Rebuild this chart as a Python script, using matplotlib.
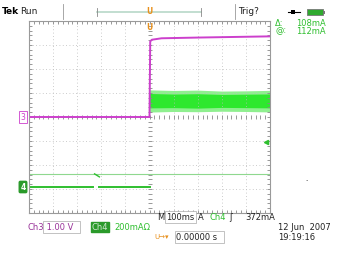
import matplotlib
matplotlib.use('Agg')
import matplotlib.pyplot as plt
from matplotlib.patches import Rectangle

W, H = 343, 256

# channel 3 (volts), 1.00 V/div, ground marker at centre
t3 = [-0.5, -0.001, 0.0, 0.003, 0.01, 0.05, 0.2, 0.5]
v3 = [0.0, 0.0, 0.0, 3.15, 3.22, 3.28, 3.31, 3.36]

# channel 4 (mA), 200 mA/div, ground marker below centre
ch4_pre_t = [[-0.5, -0.235], [-0.21, 0.0]]
ch4_pre_i = [[0.0, 0.0], [0.0, 0.0]]
blip_t = [-0.228, -0.208]
blip_i = [110, 85]
env_t = [0.0, 0.1, 0.2, 0.3, 0.4, 0.5]
env_top = [810, 805, 808, 800, 802, 806]
env_bot = [625, 630, 628, 632, 630, 626]
core_top = [780, 775, 778, 772, 774, 776]
core_bot = [660, 662, 658, 664, 662, 660]
trig_level = 108

ch3_scale, ch3_pos = 1.0, 0.0
ch4_scale, ch4_pos = 200.0, -2.92

MAG = '#cc3fcc'
GRN = '#2fbf2f'
ORG = '#e8901c'


def px(x, y):
    return x / W, 1 - y / H


fig = plt.figure(figsize=(W / 100, H / 100), dpi=100)
fig.patch.set_facecolor('white')

ax = fig.add_axes([29 / W, 43 / H, 241 / W, 192 / H])
ax.set_xlim(-0.5, 0.5)
ax.set_ylim(-4, 4)
ax.set_xticks([])
ax.set_yticks([])
for s in ax.spines.values():
    s.set_color('#9a9a9a')
    s.set_linewidth(0.8)

# graticule
for gx in [-0.4, -0.3, -0.2, -0.1, 0.1, 0.2, 0.3, 0.4]:
    ax.axvline(gx, color='#bbbbbb', lw=0.6, ls=(0, (1, 3)))
for gy in [-3, -2, -1, 1, 2, 3]:
    ax.axhline(gy, color='#bbbbbb', lw=0.6, ls=(0, (1, 3)))
minor_x = [i * 0.02 - 0.5 for i in range(51)]
minor_y = [i * 0.2 - 4 for i in range(41)]
ax.plot(minor_x, [0] * len(minor_x), '|', color='#888888', ms=3, mew=0.6)
ax.plot([0] * len(minor_y), minor_y, '_', color='#888888', ms=3, mew=0.6)
ax.plot(minor_x, [-3.97] * len(minor_x), '|', color='#888888', ms=3, mew=0.6)
ax.plot(minor_x, [3.97] * len(minor_x), '|', color='#888888', ms=3, mew=0.6)
ax.plot([-0.497] * len(minor_y), minor_y, '_', color='#888888', ms=3, mew=0.6)
ax.plot([0.497] * len(minor_y), minor_y, '_', color='#888888', ms=3, mew=0.6)

# trigger level line
ax.axhline(trig_level / ch4_scale + ch4_pos, color='#8fd88f', lw=0.8)

# channel 4
def d4(vals):
    return [v / ch4_scale + ch4_pos for v in vals]

ax.fill_between(env_t, d4(env_bot), d4(env_top), color='#8ff08f', lw=0)
ax.fill_between(env_t, d4(core_bot), d4(core_top), color='#2ee82e', lw=0)
for tt, ii in zip(ch4_pre_t, ch4_pre_i):
    ax.plot(tt, d4(ii), color=GRN, lw=1.4)
ax.plot(blip_t, d4(blip_i), color=GRN, lw=1.0)

# channel 3
ax.plot(t3, [v / ch3_scale + ch3_pos for v in v3], color=MAG, lw=1.4)

# right-side ch4 marker
ax.plot([0.485], [-1.05], marker='<', color=GRN, ms=3)

# trigger position marker just under top edge
fig.text(*px(149.5, 27), 'U', color=ORG, fontsize=5.5, fontweight='bold',
         ha='center', va='center')

# channel ground markers
fig.text(*px(23, 117), '3', color=MAG, fontsize=5.5, ha='center', va='center',
         bbox=dict(boxstyle='square,pad=0.15', fc='white', ec=MAG, lw=0.6))
fig.text(*px(23, 187), '4', color='white', fontsize=5.5, fontweight='bold',
         ha='center', va='center',
         bbox=dict(boxstyle='round,pad=0.15', fc='#2a9a2a', ec='#2a9a2a'))

# top status bar
fig.text(*px(2, 12), 'Tek', fontsize=6.5, fontweight='bold', va='center')
fig.text(*px(20, 12), 'Run', fontsize=6.5, va='center', color='#222222')
for xx in [63, 235]:
    fig.add_artist(plt.Line2D([xx / W, xx / W], [1 - 4 / H, 1 - 19 / H],
                              color='#999999', lw=0.6))
fig.add_artist(plt.Line2D([97 / W, 201 / W], [1 - 12 / H, 1 - 12 / H],
                          color='#b8d8c8', lw=1.2))
for xx in [97, 201]:
    fig.add_artist(plt.Line2D([xx / W, xx / W], [1 - 8 / H, 1 - 16 / H],
                              color='#888888', lw=0.6))
fig.text(*px(149.5, 12), 'U', color=ORG, fontsize=5.5, fontweight='bold',
         ha='center', va='center')
fig.text(*px(238, 12), 'Trig?', fontsize=6.5, va='center', color='#222222')

# battery / power icon
fig.add_artist(Rectangle((291 / W, 1 - 14 / H), 4 / W, 4 / H,
                         fc='black', ec='none'))
fig.add_artist(plt.Line2D([288 / W, 300 / W], [1 - 12 / H, 1 - 12 / H],
                          color='black', lw=0.8))
fig.add_artist(Rectangle((307 / W, 1 - 15 / H), 16 / W, 6 / H,
                         fc='#2faa2f', ec='#777777', lw=0.6))
fig.add_artist(Rectangle((323 / W, 1 - 13.5 / H), 2 / W, 3 / H,
                         fc='#777777', ec='none'))

fig.text(*px(275, 23), '\u0394:', fontsize=6, va='center', color=GRN)
fig.text(*px(296, 23), '108mA', fontsize=6, va='center', color=GRN)
fig.text(*px(275, 31), '@:', fontsize=6, va='center', color=GRN)
fig.text(*px(296, 31), '112mA', fontsize=6, va='center', color=GRN)
fig.text(*px(305, 179), '.', fontsize=5, va='center', color='black')

# bottom readouts
fig.text(*px(157, 217), 'M', fontsize=6, va='center', color='#222222')
fig.text(*px(166, 217), '100ms', fontsize=6, va='center', color='#222222',
         bbox=dict(boxstyle='square,pad=0.15', fc='white', ec='#aaaaaa', lw=0.5))
fig.text(*px(198, 217), 'A', fontsize=6, va='center', color='#222222')
fig.text(*px(209, 217), 'Ch4', fontsize=6, va='center', color=GRN)
fig.text(*px(229, 217), '\u0283', fontsize=6, va='center', color='#222222')
fig.text(*px(245, 217), '372mA', fontsize=6, va='center', color='#222222')

fig.text(*px(28, 227), 'Ch3', fontsize=6, va='center', color='#993399')
fig.text(*px(44, 227), ' 1.00 V  ', fontsize=6, va='center', color='#993399',
         bbox=dict(boxstyle='square,pad=0.15', fc='white', ec='#aaaaaa', lw=0.5))
fig.text(*px(92, 227), 'Ch4', fontsize=6, va='center', color='#cfe8cf',
         bbox=dict(boxstyle='square,pad=0.1', fc='#2a9a2a', ec='#2a9a2a'))
fig.text(*px(114, 227), '200mA\u03A9', fontsize=6, va='center', color=GRN)

fig.text(*px(154, 237), 'U\u2192\u25BE', fontsize=5, va='center', color=ORG)
fig.text(*px(176, 237), '0.00000 s  ', fontsize=6, va='center', color='#222222',
         bbox=dict(boxstyle='square,pad=0.15', fc='white', ec='#aaaaaa', lw=0.5))

fig.text(*px(278, 228), '12 Jun  2007', fontsize=6, va='center', color='#222222')
fig.text(*px(278, 237), '19:19:16', fontsize=6, va='center', color='#222222')

fig.savefig('out.png', dpi=100, facecolor='white')
